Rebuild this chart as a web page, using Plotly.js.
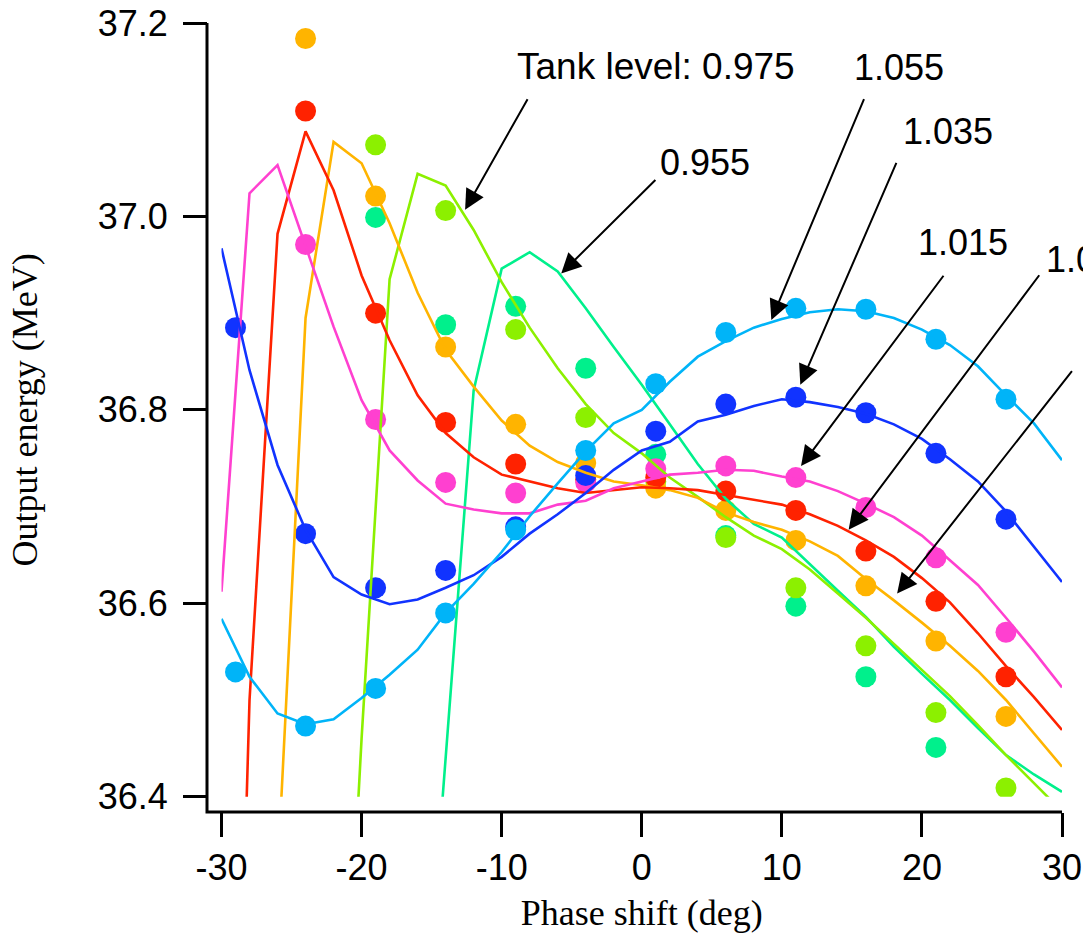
<!DOCTYPE html>
<html>
<head>
<meta charset="utf-8">
<script src="https://cdn.plot.ly/plotly-3.0.1.min.js"></script>
<style>html,body{margin:0;padding:0;background:#fff;}#chart{width:1083px;height:937px;}</style>
</head>
<body>
<div id="chart"></div>
<script>
// ---- data ----
const tankLevels = ['0.955', '0.975', '0.995', '1.005', '1.015', '1.035', '1.055'];
const seriesColors = ['#00f08c', '#8cf000', '#ffb400', '#ff2200', '#ff40d0', '#1133ff', '#00b4f8'];

// measured points (dots)
const dotX_all = [-29, -24, -19, -14, -9, -4, 1, 6, 11, 16, 21, 26];
const dotX_from24 = [-24, -19, -14, -9, -4, 1, 6, 11, 16, 21, 26];
const dotX_from19 = [-19, -14, -9, -4, 1, 6, 11, 16, 21, 26];
const dotX_green = [-19, -14, -9, -4, 1, 6, 11, 16, 21];

const dots0955 = [36.999, 36.888, 36.907, 36.843, 36.754, 36.670, 36.597, 36.524, 36.451];
const dots0975 = [37.074, 37.006, 36.883, 36.792, 36.726, 36.668, 36.616, 36.556, 36.487, 36.409];
const dots0995 = [37.184, 37.021, 36.865, 36.785, 36.745, 36.719, 36.696, 36.665, 36.618, 36.561, 36.483];
const dots1005 = [37.109, 36.900, 36.787, 36.744, 36.728, 36.730, 36.716, 36.696, 36.654, 36.602, 36.524];
const dots1015 = [36.971, 36.790, 36.725, 36.714, 36.725, 36.739, 36.742, 36.730, 36.699, 36.647, 36.570];
const dots1035 = [36.885, 36.672, 36.616, 36.634, 36.679, 36.732, 36.778, 36.806, 36.813, 36.797, 36.755, 36.687];
const dots1055 = [36.529, 36.473, 36.512, 36.590, 36.676, 36.758, 36.827, 36.880, 36.905, 36.904, 36.873, 36.811];

// simulated curves (lines)
const lineX = [-30, -28, -26, -24, -22, -20, -18, -16, -14, -12, -10, -8, -6, -4, -2, 0, 2, 4, 6, 8, 10, 12, 14, 16, 18, 20, 22, 24, 26, 28, 30];
const lineX_from26 = [-26, -24, -22, -20, -18, -16, -14, -12, -10, -8, -6, -4, -2, 0, 2, 4, 6, 8, 10, 12, 14, 16, 18, 20, 22, 24, 26, 28, 30];
const lineX_from22 = [-22, -20, -18, -16, -14, -12, -10, -8, -6, -4, -2, 0, 2, 4, 6, 8, 10, 12, 14, 16, 18, 20, 22, 24, 26, 28, 30];
const lineX_from16 = [-16, -14, -12, -10, -8, -6, -4, -2, 0, 2, 4, 6, 8, 10, 12, 14, 16, 18, 20, 22, 24, 26, 28, 30];

const line0955 = [36.06, 36.444, 36.820, 36.946, 36.963, 36.943, 36.905, 36.865, 36.826, 36.785, 36.744, 36.708, 36.682, 36.668, 36.640, 36.613, 36.586, 36.555, 36.527, 36.500, 36.471, 36.443, 36.423, 36.405];
const line0975 = [35.92, 36.46, 36.935, 37.044, 37.032, 36.986, 36.932, 36.885, 36.843, 36.806, 36.776, 36.755, 36.730, 36.710, 36.689, 36.670, 36.656, 36.635, 36.610, 36.585, 36.558, 36.531, 36.504, 36.474, 36.443, 36.414, 36.385];
const line0995 = [36.32, 36.895, 37.077, 37.055, 36.993, 36.921, 36.862, 36.824, 36.789, 36.763, 36.746, 36.735, 36.726, 36.722, 36.717, 36.709, 36.694, 36.684, 36.676, 36.664, 36.649, 36.625, 36.603, 36.580, 36.556, 36.530, 36.500, 36.466, 36.431];
const line1005 = [35.50, 36.50, 36.982, 37.088, 37.027, 36.939, 36.872, 36.815, 36.776, 36.751, 36.733, 36.726, 36.719, 36.714, 36.717, 36.720, 36.719, 36.717, 36.712, 36.707, 36.702, 36.692, 36.680, 36.665, 36.648, 36.626, 36.601, 36.569, 36.535, 36.503, 36.469];
const line1015 = [36.612, 37.024, 37.053, 36.970, 36.886, 36.810, 36.758, 36.727, 36.703, 36.697, 36.693, 36.693, 36.702, 36.706, 36.719, 36.726, 36.733, 36.735, 36.738, 36.737, 36.731, 36.726, 36.716, 36.703, 36.689, 36.670, 36.645, 36.619, 36.585, 36.550, 36.513];
const line1035 = [36.967, 36.841, 36.743, 36.676, 36.627, 36.609, 36.599, 36.604, 36.616, 36.629, 36.648, 36.672, 36.692, 36.714, 36.738, 36.758, 36.767, 36.788, 36.795, 36.804, 36.811, 36.808, 36.803, 36.796, 36.785, 36.770, 36.749, 36.726, 36.695, 36.658, 36.622];
const line1055 = [36.584, 36.524, 36.486, 36.475, 36.480, 36.502, 36.526, 36.552, 36.590, 36.620, 36.653, 36.690, 36.724, 36.757, 36.786, 36.800, 36.829, 36.855, 36.871, 36.885, 36.894, 36.901, 36.904, 36.902, 36.895, 36.883, 36.867, 36.845, 36.815, 36.786, 36.748];

const xTicks = [-30, -20, -10, 0, 10, 20, 30];
const yTicks = [36.4, 36.6, 36.8, 37.0, 37.2];

// ---- traces ----
const dotSets = [
  [dotX_green, dots0955], [dotX_from19, dots0975], [dotX_from24, dots0995], [dotX_from24, dots1005],
  [dotX_from24, dots1015], [dotX_all, dots1035], [dotX_all, dots1055]
];
const lineSets = [
  [lineX_from16, line0955], [lineX_from22, line0975], [lineX_from26, line0995], [lineX, line1005],
  [lineX, line1015], [lineX, line1035], [lineX, line1055]
];

const traces = [];
dotSets.forEach((d, i) => {
  traces.push({
    type: 'scatter', mode: 'markers', x: d[0], y: d[1], name: tankLevels[i] + ' measured',
    marker: {color: seriesColors[i], size: 21, line: {width: 0}}, showlegend: false, hoverinfo: 'x+y'
  });
});
lineSets.forEach((d, i) => {
  traces.push({
    type: 'scatter', mode: 'lines', x: d[0], y: d[1], name: tankLevels[i],
    line: {color: seriesColors[i], width: 2.6}, showlegend: false, hoverinfo: 'x+y'
  });
});

const labelFont = {family: 'Liberation Sans, Arial, sans-serif', size: 36, color: '#000'};

// text labels (paper coords) and arrows (tip in data coords, tail offset in px)
const labels = [
  {text: 'Tank level: 0.975', x: 0.3599, y: 0.9446, size: 37},
  {text: '0.955', x: 0.5275, y: 0.8227, size: 36},
  {text: '1.055', x: 0.7544, y: 0.9436, size: 36},
  {text: '1.035', x: 0.8113, y: 0.8631, size: 36},
  {text: '1.015', x: 0.8296, y: 0.7213, size: 36},
  {text: '1.005', x: 0.9786, y: 0.7006, size: 36}
];
const arrows = [
  {x: -12.61, y: 37.007, ax: 63.3, ay: -112},
  {x: -5.75, y: 36.941, ax: 95.7, ay: -95},
  {x: 9.25, y: 36.893, ax: 93.3, ay: -222.3},
  {x: 11.32, y: 36.826, ax: 96.7, ay: -223.3},
  {x: 11.37, y: 36.742, ax: 143.6, ay: -191.7},
  {x: 14.77, y: 36.676, ax: 191.7, ay: -256},
  {x: 18.23, y: 36.610, ax: 176, ay: -224}
];

const annotations = [];
labels.forEach(l => annotations.push({
  xref: 'paper', yref: 'paper', x: l.x, y: l.y, text: l.text, showarrow: false,
  xanchor: 'left', yanchor: 'middle', font: Object.assign({}, labelFont, {size: l.size})
}));
arrows.forEach(a => annotations.push({
  xref: 'x', yref: 'y', x: a.x, y: a.y, ax: a.ax, ay: a.ay, text: '', showarrow: true,
  arrowhead: 2, arrowsize: 2, arrowwidth: 2, arrowcolor: '#000', standoff: 0
}));

const layout = {
  width: 1083, height: 937,
  margin: {l: 207, r: 21, t: 23, b: 125, pad: 0},
  paper_bgcolor: '#fff', plot_bgcolor: '#fff',
  showlegend: false,
  xaxis: {
    domain: [0.01696, 1], range: [-30, 30], anchor: 'free', position: 0,
    tickvals: xTicks, ticktext: xTicks.map(String),
    ticks: 'outside', ticklen: 24, tickwidth: 3, tickcolor: '#000',
    showline: false, showgrid: false, zeroline: false,
    tickfont: labelFont,
    title: {text: 'Phase shift (deg)', font: {family: 'Liberation Serif, Times New Roman, serif', size: 36, color: '#000'}, standoff: 12}
  },
  yaxis: {
    domain: [0.01939, 1], range: [36.4, 37.2], anchor: 'free', position: 0,
    tickvals: yTicks, ticktext: yTicks.map(v => v.toFixed(1)),
    ticks: 'outside', ticklen: 24, tickwidth: 3, tickcolor: '#000',
    ticklabelstandoff: 8,
    showline: false, showgrid: false, zeroline: false,
    tickfont: labelFont,
    title: {text: 'Output energy (MeV)', font: {family: 'Liberation Serif, Times New Roman, serif', size: 36, color: '#000'}, standoff: 48}
  },
  shapes: [{
    type: 'path', xref: 'paper', yref: 'paper', path: 'M0,1 L0,0 L1,0',
    line: {color: '#000', width: 3}
  }],
  annotations: annotations
};

Plotly.newPlot('chart', traces, layout, {staticPlot: true, displayModeBar: false});
</script>
</body>
</html>
